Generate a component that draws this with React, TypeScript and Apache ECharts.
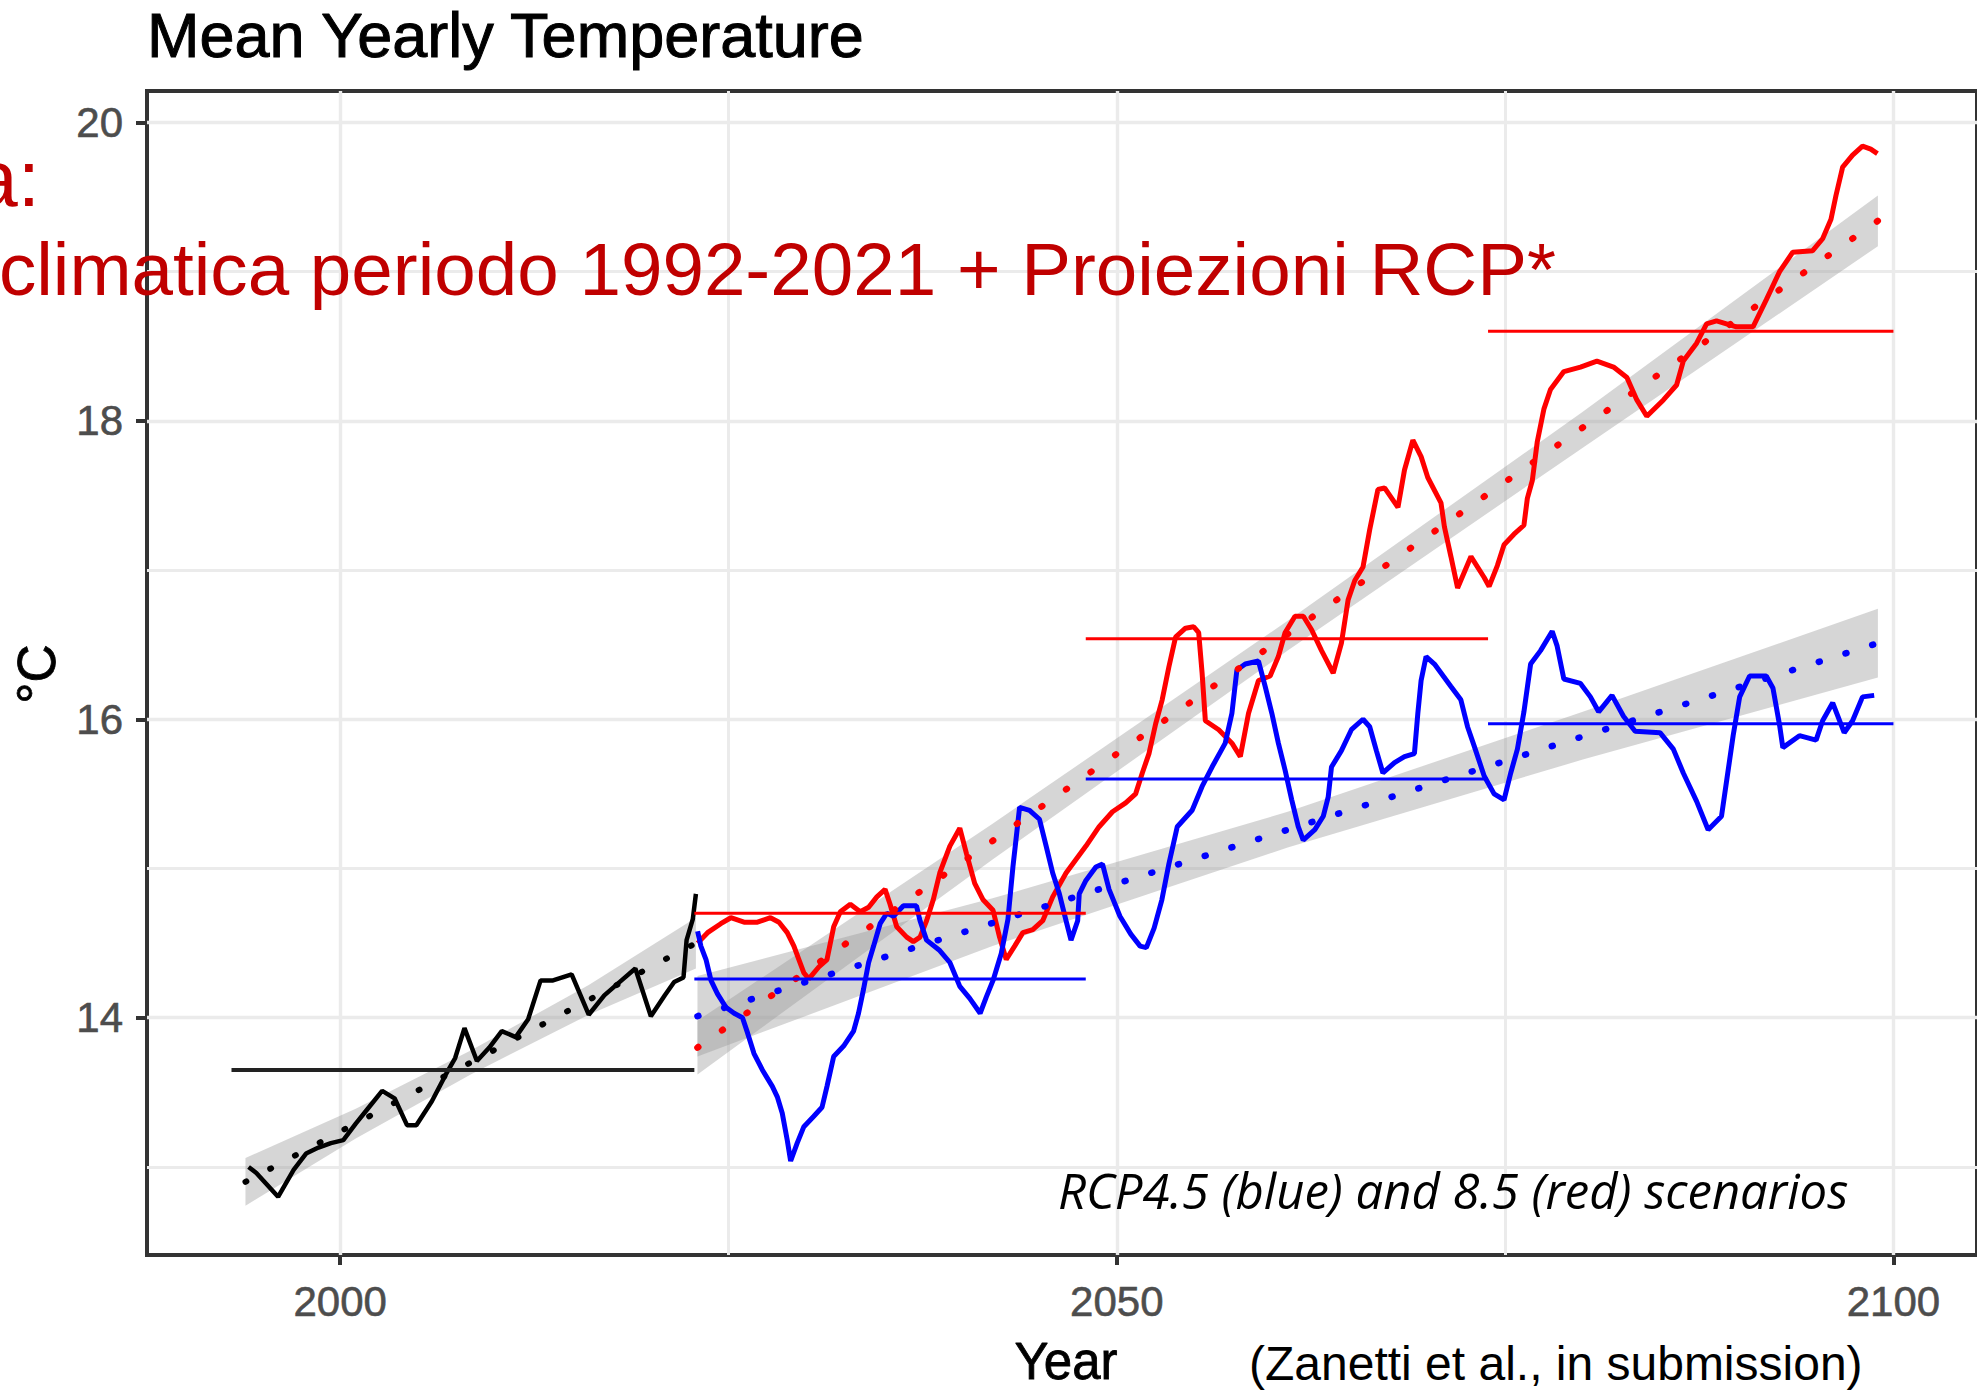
import React, { useEffect, useRef } from "react";
import * as echarts from "echarts";

// ---------- axis extents ----------
const X_MIN = 1987.56;
const X_MAX = 2105.38;
const Y_MIN = 12.41;
const Y_MAX = 20.21;

const X_TICKS = [2000, 2050, 2100];
const X_MINOR = [2025, 2075];
const Y_TICKS = [14, 16, 18, 20];
const Y_MINOR = [13, 15, 17, 19];

// ---------- observed (black) ----------
const BLACK_YEARS = [1994.1, 1994.6, 1996.0, 1997.0, 1997.8, 1998.6, 1999.4, 2000.2, 2001.0, 2001.85, 2002.7, 2003.5, 2004.3, 2004.9, 2005.9, 2006.8, 2007.4, 2008.0, 2008.8, 2009.6, 2010.4, 2011.3, 2012.1, 2012.9, 2013.7, 2014.9, 2016.0, 2017.0, 2018.0, 2019.0, 2020.0, 2020.9, 2021.5, 2022.1, 2022.3, 2022.7, 2022.9];
const BLACK_VALUES = [13.0, 12.96, 12.8, 12.98, 13.09, 13.13, 13.16, 13.18, 13.29, 13.4, 13.51, 13.46, 13.28, 13.28, 13.44, 13.62, 13.73, 13.93, 13.71, 13.8, 13.91, 13.87, 13.99, 14.25, 14.25, 14.29, 14.02, 14.15, 14.24, 14.33, 14.01, 14.15, 14.24, 14.27, 14.52, 14.66, 14.83];

// ---------- RCP8.5 (red) ----------
const RED_YEARS = [2023.01, 2023.65, 2024.5, 2025.15, 2026.0, 2026.86, 2027.7, 2028.25, 2028.78, 2029.21, 2029.53, 2029.85, 2030.17, 2030.81, 2031.34, 2031.77, 2032.2, 2032.84, 2033.48, 2034.02, 2034.55, 2035.08, 2035.4, 2035.83, 2036.47, 2036.9, 2037.33, 2037.75, 2038.18, 2038.6, 2039.25, 2039.89, 2040.32, 2040.85, 2041.39, 2042.03, 2042.45, 2042.88, 2043.42, 2043.95, 2044.59, 2045.23, 2045.87, 2046.73, 2048.01, 2048.86, 2049.72, 2050.57, 2051.21, 2051.64, 2052.07, 2052.5, 2052.92, 2053.35, 2053.78, 2054.42, 2054.95, 2055.27, 2055.49, 2055.7, 2056.56, 2057.41, 2057.95, 2058.48, 2059.12, 2059.87, 2060.4, 2060.83, 2061.47, 2062.01, 2062.54, 2063.18, 2063.93, 2064.46, 2064.89, 2065.32, 2065.85, 2066.28, 2066.81, 2067.24, 2068.1, 2068.52, 2069.06, 2069.59, 2070.02, 2070.87, 2071.09, 2071.51, 2071.94, 2072.8, 2073.65, 2073.97, 2074.5, 2074.93, 2075.57, 2076.21, 2076.43, 2076.75, 2077.07, 2077.5, 2077.92, 2078.78, 2079.85, 2080.91, 2081.98, 2082.84, 2083.48, 2084.12, 2085.19, 2086.04, 2086.47, 2087.33, 2087.97, 2088.61, 2089.89, 2090.96, 2091.81, 2092.67, 2093.52, 2094.8, 2095.44, 2095.98, 2096.3, 2096.73, 2097.37, 2098.01, 2098.54, 2098.97];
const RED_VALUES = [14.5, 14.57, 14.63, 14.67, 14.64, 14.64, 14.67, 14.64, 14.57, 14.48, 14.39, 14.3, 14.26, 14.34, 14.39, 14.61, 14.71, 14.76, 14.71, 14.74, 14.81, 14.86, 14.76, 14.61, 14.54, 14.51, 14.54, 14.65, 14.79, 14.97, 15.15, 15.27, 15.1, 14.9, 14.79, 14.72, 14.54, 14.39, 14.48, 14.57, 14.59, 14.65, 14.81, 14.97, 15.15, 15.28, 15.38, 15.44, 15.5, 15.64, 15.77, 15.97, 16.13, 16.35, 16.55, 16.61, 16.62, 16.58, 16.31, 15.99, 15.93, 15.84, 15.75, 16.04, 16.26, 16.29, 16.42, 16.58, 16.69, 16.69, 16.6, 16.46, 16.31, 16.51, 16.8, 16.93, 17.02, 17.27, 17.54, 17.55, 17.42, 17.67, 17.87, 17.76, 17.62, 17.45, 17.29, 17.09, 16.88, 17.09, 16.95, 16.89, 17.03, 17.17, 17.24, 17.3, 17.48, 17.6, 17.86, 18.08, 18.21, 18.33, 18.36, 18.4, 18.36, 18.29, 18.14, 18.03, 18.14, 18.24, 18.4, 18.52, 18.65, 18.67, 18.63, 18.63, 18.81, 19.0, 19.13, 19.14, 19.22, 19.35, 19.51, 19.7, 19.78, 19.84, 19.82, 19.79];

// ---------- RCP4.5 (blue) ----------
const BLUE_YEARS = [2023.01, 2023.22, 2023.55, 2023.87, 2024.29, 2024.83, 2025.36, 2025.9, 2026.22, 2026.64, 2027.18, 2027.82, 2028.14, 2028.46, 2028.78, 2029.0, 2029.42, 2029.85, 2030.49, 2031.02, 2031.34, 2031.77, 2032.41, 2033.05, 2033.37, 2033.69, 2034.02, 2034.34, 2034.76, 2035.19, 2035.62, 2036.26, 2037.1, 2037.33, 2037.75, 2038.6, 2039.25, 2039.89, 2040.53, 2041.2, 2041.6, 2042.03, 2042.56, 2042.99, 2043.31, 2043.74, 2044.38, 2045.02, 2045.45, 2045.87, 2046.3, 2046.73, 2047.05, 2047.48, 2047.58, 2048.01, 2048.65, 2049.08, 2049.5, 2050.2, 2050.9, 2051.5, 2051.9, 2052.4, 2052.9, 2053.35, 2053.89, 2054.85, 2055.49, 2056.13, 2056.98, 2057.41, 2057.73, 2058.27, 2059.12, 2059.55, 2059.98, 2060.4, 2060.83, 2061.26, 2061.68, 2062.0, 2062.75, 2063.29, 2063.61, 2063.82, 2064.46, 2065.1, 2065.85, 2066.28, 2066.71, 2067.13, 2067.88, 2068.52, 2069.16, 2069.38, 2069.59, 2069.91, 2070.45, 2071.51, 2072.15, 2072.58, 2073.01, 2073.65, 2074.29, 2074.93, 2075.36, 2075.79, 2076.21, 2076.64, 2077.28, 2078.03, 2078.35, 2078.78, 2079.85, 2080.49, 2081.02, 2081.88, 2082.62, 2083.37, 2084.97, 2085.83, 2086.47, 2087.33, 2088.07, 2088.93, 2089.25, 2089.68, 2090.1, 2090.74, 2091.81, 2092.24, 2092.67, 2092.88, 2093.95, 2095.02, 2095.44, 2096.09, 2096.83, 2097.37, 2098.01, 2098.76];
const BLUE_VALUES = [14.58, 14.48, 14.39, 14.25, 14.16, 14.07, 14.03, 14.0, 13.9, 13.76, 13.65, 13.54, 13.47, 13.36, 13.18, 13.04, 13.16, 13.27, 13.34, 13.4, 13.54, 13.74, 13.81, 13.91, 14.03, 14.19, 14.37, 14.48, 14.63, 14.7, 14.68, 14.75, 14.75, 14.65, 14.52, 14.45, 14.37, 14.21, 14.13, 14.03, 14.14, 14.25, 14.43, 14.66, 15.01, 15.41, 15.39, 15.33, 15.15, 14.97, 14.83, 14.65, 14.52, 14.65, 14.83, 14.92, 15.01, 15.03, 14.86, 14.68, 14.56, 14.48, 14.47, 14.6, 14.79, 15.03, 15.28, 15.39, 15.55, 15.68, 15.84, 16.04, 16.33, 16.37, 16.39, 16.22, 16.04, 15.84, 15.66, 15.46, 15.28, 15.19, 15.26, 15.35, 15.48, 15.68, 15.79, 15.93, 16.0, 15.95, 15.79, 15.64, 15.71, 15.75, 15.77, 16.04, 16.26, 16.42, 16.37, 16.22, 16.13, 15.95, 15.82, 15.62, 15.5, 15.46, 15.64, 15.8, 16.05, 16.37, 16.46, 16.59, 16.49, 16.27, 16.24, 16.15, 16.05, 16.16, 16.02, 15.92, 15.91, 15.8, 15.64, 15.45, 15.26, 15.35, 15.58, 15.89, 16.15, 16.29, 16.29, 16.21, 15.96, 15.81, 15.89, 15.86, 15.99, 16.11, 15.91, 15.99, 16.15, 16.16];

// ---------- linear trends (dotted) ----------
const BLACK_TREND_YEARS = [1993.9, 2022.9];
const BLACK_TREND_VALUES = [12.9, 14.5];
const RED_TREND_YEARS = [2023, 2099];
const RED_TREND_VALUES = [13.8, 19.34];
const BLUE_TREND_YEARS = [2023, 2099];
const BLUE_TREND_VALUES = [14.01, 16.51];

// ---------- confidence bands ----------
const BLACK_BAND_YEARS = [1993.9, 2001, 2008.4, 2016, 2022.9];
const BLACK_BAND_LOW = [12.74, 13.19, 13.62, 14.02, 14.33];
const BLACK_BAND_HIGH = [13.06, 13.39, 13.78, 14.22, 14.67];
const RED_BAND_YEARS = [2023, 2042, 2061, 2080, 2099];
const RED_BAND_LOW = [13.62, 15.06, 16.46, 17.82, 19.17];
const RED_BAND_HIGH = [13.98, 15.3, 16.66, 18.06, 19.51];
const BLUE_BAND_YEARS = [2023, 2042, 2061, 2080, 2099];
const BLUE_BAND_LOW = [13.74, 14.48, 15.14, 15.73, 16.28];
const BLUE_BAND_HIGH = [14.28, 14.8, 15.38, 16.05, 16.74];

// ---------- period means ----------
const BLACK_PERIOD = [1993.0, 2022.8];
const BLACK_MEAN = 13.65;
const PERIOD_STARTS = [2022.8, 2048.0, 2073.9];
const PERIOD_ENDS = [2048.0, 2073.9, 2100.0];
const RED_MEANS = [14.7, 16.54, 18.6];
const BLUE_MEANS = [14.26, 15.6, 15.97];

const SANS = "'Liberation Sans', Arial, Helvetica, sans-serif";
const BAND_FILL = "rgba(153,153,153,0.4)";

const zip = (xs: number[], ys: number[]) => xs.map((x, i) => [x, ys[i]]);

function bandSeries(years: number[], low: number[], high: number[]) {
  return {
    type: "custom",
    silent: true,
    z: 3,
    data: [[years[0], low[0]]],
    renderItem: (_params: any, api: any) => {
      const pts: number[][] = [];
      for (let i = 0; i < years.length; i++) pts.push(api.coord([years[i], low[i]]));
      for (let i = years.length - 1; i >= 0; i--) pts.push(api.coord([years[i], high[i]]));
      return { type: "polygon", shape: { points: pts }, style: { fill: BAND_FILL } };
    },
  };
}

function lineSeries(name: string, data: number[][], color: string, width: number, z: number, extra: any = {}) {
  return {
    name,
    type: "line",
    data,
    symbol: "none",
    showSymbol: false,
    silent: true,
    z,
    lineStyle: { color, width, ...extra },
  };
}

export default function App() {
  const ref = useRef<HTMLDivElement>(null);

  useEffect(() => {
    if (!ref.current) return;
    const chart = echarts.init(ref.current, undefined, { renderer: "svg" });

    const gridData = [
      ...X_TICKS.map((v) => ({ xAxis: v, lineStyle: { width: 3.4 } })),
      ...X_MINOR.map((v) => ({ xAxis: v, lineStyle: { width: 3 } })),
      ...Y_TICKS.map((v) => ({ yAxis: v, lineStyle: { width: 3.4 } })),
      ...Y_MINOR.map((v) => ({ yAxis: v, lineStyle: { width: 3 } })),
    ];

    const series: any[] = [
      {
        name: "grid",
        type: "line",
        data: [[2000, 14]],
        symbol: "none",
        silent: true,
        z: 1,
        lineStyle: { width: 0 },
        markLine: {
          silent: true,
          z: 1,
          symbol: ["none", "none"],
          label: { show: false },
          emphasis: { disabled: true },
          lineStyle: { color: "#EBEBEB", type: "solid", width: 3 },
          data: gridData,
        },
      },
      bandSeries(BLACK_BAND_YEARS, BLACK_BAND_LOW, BLACK_BAND_HIGH),
      bandSeries(RED_BAND_YEARS, RED_BAND_LOW, RED_BAND_HIGH),
      bandSeries(BLUE_BAND_YEARS, BLUE_BAND_LOW, BLUE_BAND_HIGH),
      lineSeries("observed", zip(BLACK_YEARS, BLACK_VALUES), "#000000", 4.5, 10),
      lineSeries("RCP8.5", zip(RED_YEARS, RED_VALUES), "#FF0000", 5, 11),
      lineSeries("RCP4.5", zip(BLUE_YEARS, BLUE_VALUES), "#0000FF", 5, 12),
      lineSeries("trend observed", zip(BLACK_TREND_YEARS, BLACK_TREND_VALUES), "#000000", 6, 13, { type: [1, 27], cap: "round" }),
      lineSeries("trend RCP8.5", zip(RED_TREND_YEARS, RED_TREND_VALUES), "#FF0000", 6.5, 13, { type: [1, 29], cap: "round" }),
      lineSeries("trend RCP4.5", zip(BLUE_TREND_YEARS, BLUE_TREND_VALUES), "#0000FF", 6.5, 13, { type: [1, 27], cap: "round" }),
      lineSeries("mean observed", [[BLACK_PERIOD[0], BLACK_MEAN], [BLACK_PERIOD[1], BLACK_MEAN]], "#222222", 4, 14),
    ];
    PERIOD_STARTS.forEach((s, i) => {
      series.push(lineSeries("mean RCP8.5 " + i, [[s, RED_MEANS[i]], [PERIOD_ENDS[i], RED_MEANS[i]]], "#FF0000", 3, 14));
      series.push(lineSeries("mean RCP4.5 " + i, [[s, BLUE_MEANS[i]], [PERIOD_ENDS[i], BLUE_MEANS[i]]], "#0000FF", 3, 14));
    });

    const textStyle = (t: string, size: number, color: string, align: string, extra: any = {}) => ({
      text: t,
      fontSize: size,
      fontFamily: SANS,
      fill: color,
      align,
      textAlign: align,
      verticalAlign: "middle",
      textVerticalAlign: "middle",
      ...extra,
    });

    const tickLabel = {
      show: true,
      fontSize: 42,
      color: "#4D4D4D",
      fontFamily: SANS,
      textBorderColor: "#4D4D4D",
      textBorderWidth: 0.6,
      formatter: (v: number) => String(v),
    };

    chart.setOption({
      animation: false,
      backgroundColor: "#FFFFFF",
      grid: {
        left: 147,
        top: 91,
        right: -8,
        bottom: 136,
        show: true,
        borderColor: "#333333",
        borderWidth: 4,
        backgroundColor: "transparent",
        containLabel: false,
      },
      xAxis: {
        type: "value",
        min: X_MIN,
        max: X_MAX,
        splitLine: { show: false },
        minorSplitLine: { show: false },
        axisLine: { show: false },
        axisTick: { show: true, customValues: X_TICKS, length: 10, lineStyle: { color: "#333333", width: 4 } },
        axisLabel: { ...tickLabel, customValues: X_TICKS, margin: 25 },
      },
      yAxis: {
        type: "value",
        min: Y_MIN,
        max: Y_MAX,
        splitLine: { show: false },
        minorSplitLine: { show: false },
        axisLine: { show: false },
        axisTick: { show: true, customValues: Y_TICKS, length: 11, lineStyle: { color: "#333333", width: 4 } },
        axisLabel: { ...tickLabel, customValues: Y_TICKS, margin: 24 },
      },
      series,
      graphic: [
        { type: "text", x: 147, y: 35, z: 50, style: textStyle("Mean Yearly Temperature", 63, "#000000", "left", { stroke: "#000000", lineWidth: 1 }) },
        { type: "text", x: 36, y: 674, rotation: Math.PI / 2, z: 50, style: textStyle("°C", 53, "#000000", "center", { stroke: "#000000", lineWidth: 0.8 }) },
        { type: "text", x: 1066, y: 1361, z: 50, style: textStyle("Year", 51, "#000000", "center", { stroke: "#000000", lineWidth: 0.8 }) },
        { type: "text", x: 1249, y: 1363, z: 50, style: textStyle("(Zanetti et al., in submission)", 48, "#000000", "left") },
        {
          type: "text",
          x: 1058,
          y: 1190,
          z: 50,
          style: textStyle("RCP4.5 (blue) and 8.5 (red) scenarios", 49, "#000000", "left", { fontFamily: "'Open Sans', sans-serif", fontStyle: "italic" }),
        },
        { type: "text", x: 40, y: 178, z: 60, style: textStyle("a:", 80, "#C00000", "right") },
        { type: "text", x: -1, y: 269, z: 60, style: textStyle("climatica periodo 1992-2021 + Proiezioni RCP*", 74.6, "#C00000", "left") },
      ],
    });

    return () => chart.dispose();
  }, []);

  return (
    <div
      ref={ref}
      style={{ position: "absolute", left: 0, top: 0, width: 1977, height: 1391, background: "#FFFFFF" }}
    />
  );
}
